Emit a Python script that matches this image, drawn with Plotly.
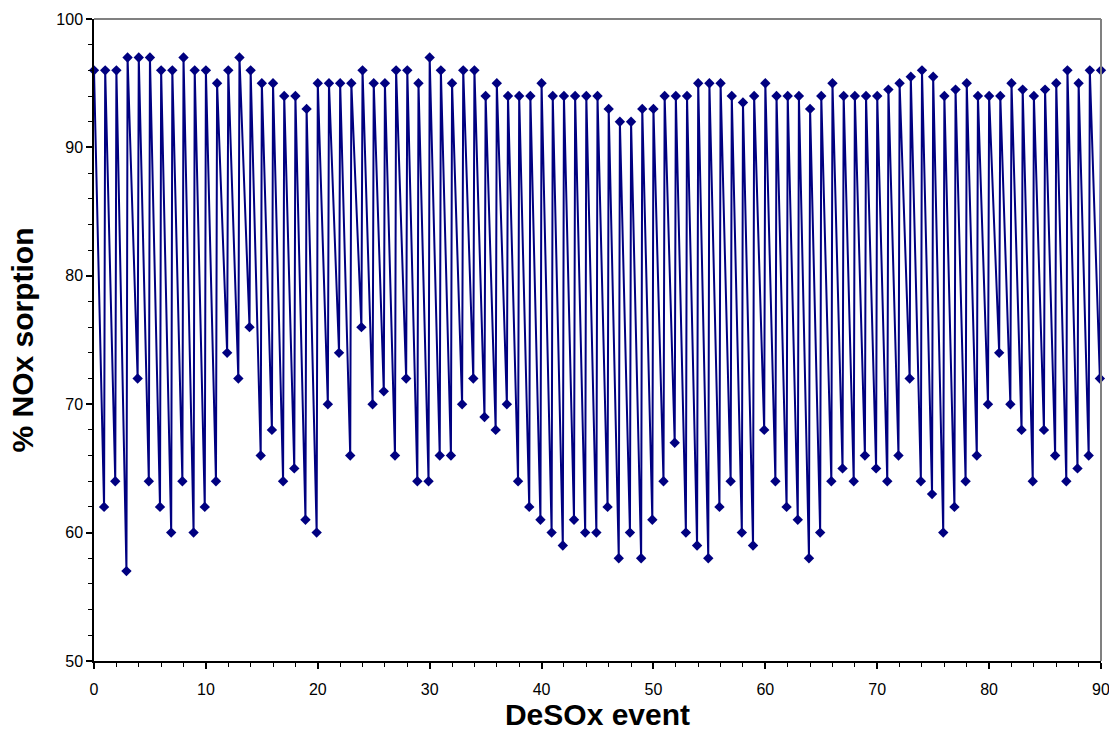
import plotly.graph_objects as go

# DeSOx event index (after-regeneration points)
events = list(range(91))

# % NOx sorption after each DeSOx event (high values), events 0..90
high_values = [96, 96, 96, 97, 97, 97, 96, 96, 97, 96,
               96, 95, 96, 97, 96, 95, 95, 94, 94, 93,
               95, 95, 95, 95, 96, 95, 95, 96, 96, 95,
               97, 96, 95, 96, 96, 94, 95, 94, 94, 94,
               95, 94, 94, 94, 94, 94, 93, 92, 92, 93,
               93, 94, 94, 94, 95, 95, 95, 94, 93.5, 94,
               95, 94, 94, 94, 93, 94, 95, 94, 94, 94,
               94, 94.5, 95, 95.5, 96, 95.5, 94, 94.5, 95, 94,
               94, 94, 95, 94.5, 94, 94.5, 95, 96, 95, 96,
               96]

# % NOx sorption just before each DeSOx event (low values), events 1..90
low_values = [62, 64, 57, 72, 64, 62, 60, 64, 60, 62,
              64, 74, 72, 76, 66, 68, 64, 65, 61, 60,
              70, 74, 66, 76, 70, 71, 66, 72, 64, 64,
              66, 66, 70, 72, 69, 68, 70, 64, 62, 61,
              60, 59, 61, 60, 60, 62, 58, 60, 58, 61,
              64, 67, 60, 59, 58, 62, 64, 60, 59, 68,
              64, 62, 61, 58, 60, 64, 65, 64, 66, 65,
              64, 66, 72, 64, 63, 60, 62, 64, 66, 70,
              74, 70, 68, 64, 68, 66, 64, 65, 66, 72]

x_ticks = [0, 10, 20, 30, 40, 50, 60, 70, 80, 90]
y_ticks = [50, 60, 70, 80, 90, 100]

PRE_EVENT_LAG = 0.1  # low reading taken just before the event

xs, ys = [events[0]], [high_values[0]]
for k in range(1, len(events)):
    xs.append(events[k] - PRE_EVENT_LAG)
    ys.append(low_values[k - 1])
    xs.append(events[k])
    ys.append(high_values[k])

NAVY = "#000080"
FONT = "Arial, Liberation Sans, sans-serif"

fig = go.Figure()
fig.add_trace(go.Scatter(
    x=xs, y=ys, mode="lines+markers",
    line=dict(color=NAVY, width=2),
    marker=dict(symbol="diamond", size=8, color=NAVY),
    showlegend=False, cliponaxis=False,
))

fig.update_layout(
    width=1109, height=738,
    margin=dict(l=94, r=8, t=19, b=77, autoexpand=False),
    paper_bgcolor="white", plot_bgcolor="white",
    font=dict(family=FONT, color="black", size=16),
    xaxis=dict(
        range=[0, 90], tickvals=x_ticks, ticktext=[str(v) for v in x_ticks],
        showgrid=False, zeroline=False, showline=True, linecolor="black", linewidth=1.5,
        ticks="outside", ticklen=6, tickwidth=1.5, tickcolor="black",
        minor=dict(dtick=2, ticks="outside", ticklen=4, tickcolor="black", tickwidth=1, showgrid=False),
        tickfont=dict(size=16, family=FONT),
        ticklabelstandoff=7, ticklabeloverflow="allow", automargin=False,
        title=dict(text="<b>DeSOx event</b>", font=dict(size=30, family=FONT), standoff=2),
    ),
    yaxis=dict(
        range=[50, 100], tickvals=y_ticks, ticktext=[str(v) for v in y_ticks],
        showgrid=False, zeroline=False, showline=True, linecolor="black", linewidth=1.5,
        ticks="outside", ticklen=6, tickwidth=1.5, tickcolor="black",
        minor=dict(dtick=2, ticks="outside", ticklen=4, tickcolor="black", tickwidth=1, showgrid=False),
        tickfont=dict(size=16, family=FONT),
        ticklabeloverflow="allow", automargin=False,
        title=dict(text="<b>% NOx sorption</b>", font=dict(size=30, family=FONT), standoff=14),
    ),
    shapes=[
        dict(type="line", xref="x domain", yref="y domain", x0=0, x1=1, y0=1, y1=1,
             line=dict(color="#808080", width=2)),
        dict(type="line", xref="x domain", yref="y domain", x0=1, x1=1, y0=0, y1=1,
             line=dict(color="#808080", width=2)),
    ],
)

fig.write_html("out.html")
